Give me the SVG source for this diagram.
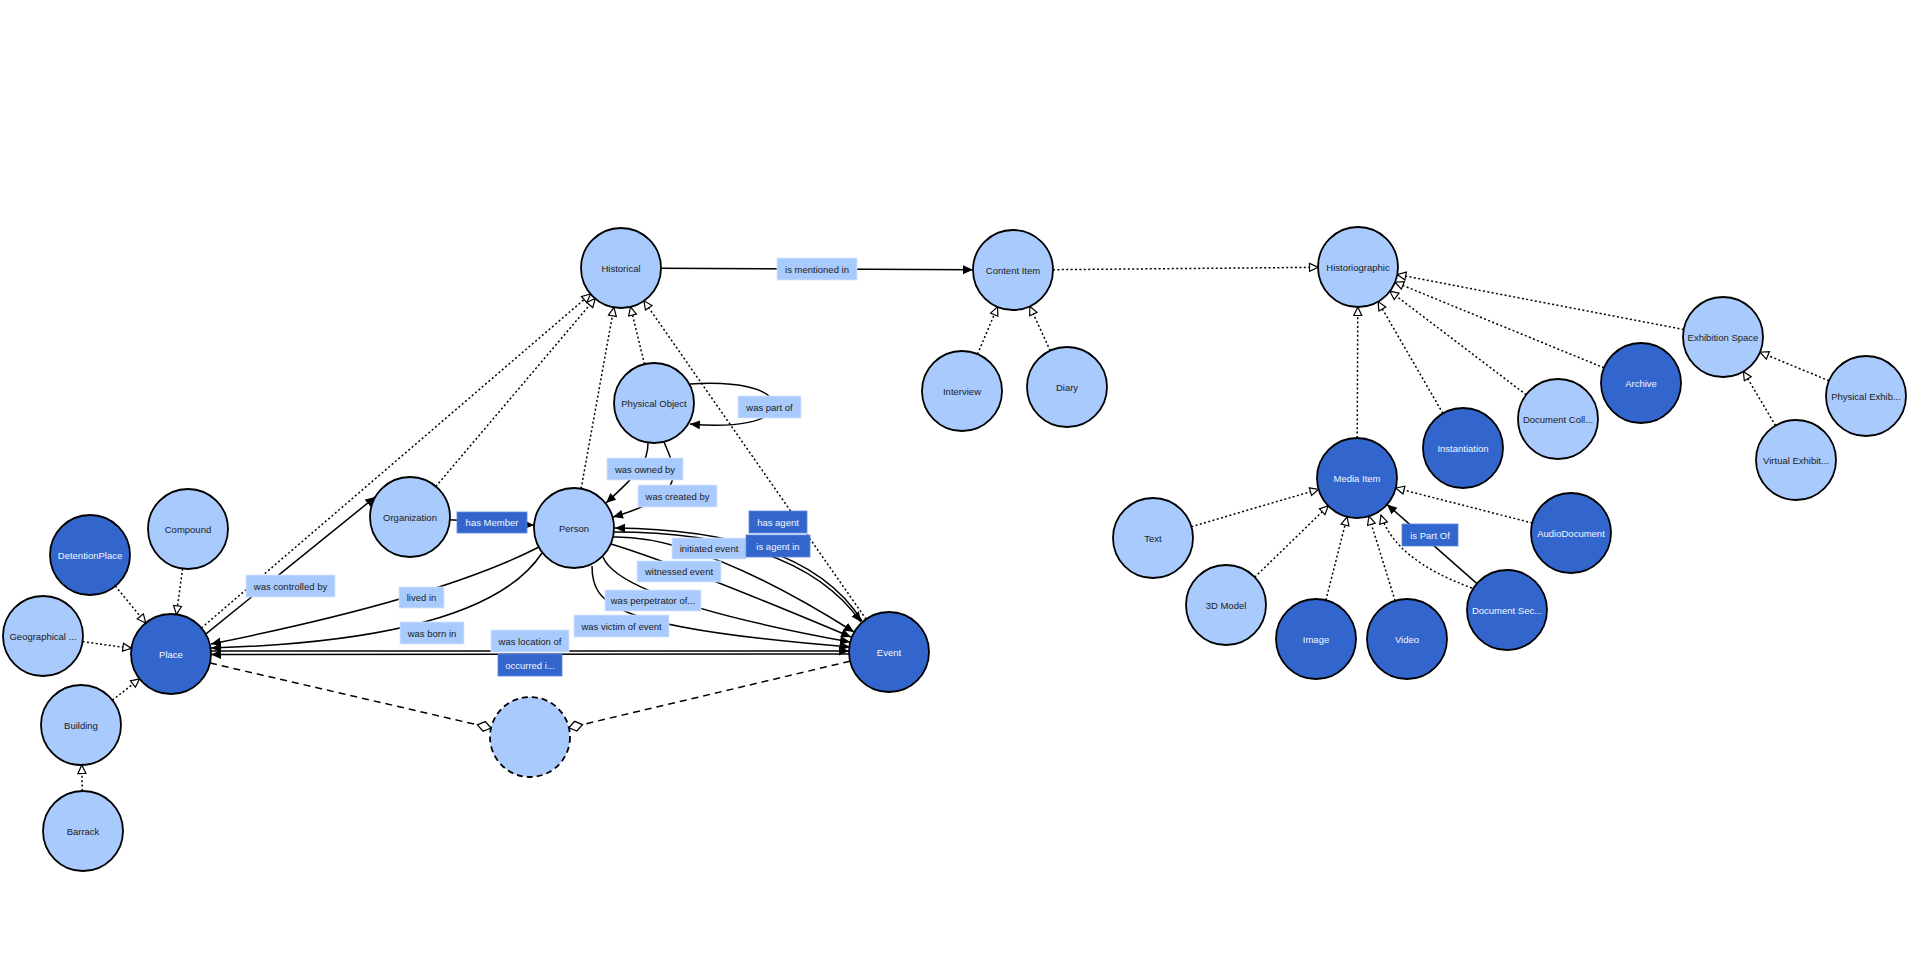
<svg xmlns="http://www.w3.org/2000/svg" width="1920" height="958" viewBox="0 0 1920 958">
<style>
  .n circle { stroke: #000; stroke-width: 1.8; }
  .lt { fill: #a8cafc; }
  .dk { fill: #3366cc; }
  .n text { font-family: "Liberation Sans", Arial, sans-serif; font-size: 9.5px; text-anchor: middle; dominant-baseline: central; }
  text.tl { fill: #1c1c24; }
  text.td { fill: #f2f6ff; }
  .e { fill: none; stroke: #000; stroke-width: 1.5; }
  .dot { stroke-dasharray: 2 2.4; }
  .dash { stroke-dasharray: 7 5; }
  .lbl text { font-family: "Liberation Sans", Arial, sans-serif; font-size: 9.5px; text-anchor: middle; dominant-baseline: central; }
  .lbl .bl { fill: #a8cafc; stroke: #d6e6ff; stroke-width: 0.8; }
  .lbl .bd { fill: #3366cc; stroke: #5a86dd; stroke-width: 0.8; }
</style>
<defs>
  <marker id="arr" markerUnits="userSpaceOnUse" markerWidth="12" markerHeight="10" refX="10" refY="4.5" orient="auto">
    <path d="M0,0 L10,4.5 L0,9 z" fill="#000"/>
  </marker>
  <marker id="tri" markerUnits="userSpaceOnUse" markerWidth="11" markerHeight="11" refX="9.5" refY="5" orient="auto">
    <path d="M1,1 L9.5,5 L1,9 z" fill="#fff" stroke="#000" stroke-width="1.2"/>
  </marker>
  <marker id="dia" markerUnits="userSpaceOnUse" markerWidth="17" markerHeight="13" refX="15" refY="6" orient="auto">
    <path d="M1,6 L8,1 L15,6 L8,11 z" fill="#fff" stroke="#000" stroke-width="1.3"/>
  </marker>
</defs>
<rect x="0" y="0" width="1920" height="958" fill="#fff"/>

<g id="connectors">
  <!-- subclass (dotted, hollow triangle) -->
  <line class="e dot" x1="115.3" y1="586" x2="145.7" y2="623" marker-end="url(#tri)"/>
  <line class="e dot" x1="182.6" y1="568.6" x2="176.4" y2="614.4" marker-end="url(#tri)"/>
  <line class="e dot" x1="82.6" y1="641.6" x2="131.4" y2="648.4" marker-end="url(#tri)"/>
  <line class="e dot" x1="112.4" y1="700.2" x2="139.6" y2="678.8" marker-end="url(#tri)"/>
  <line class="e dot" x1="82.2" y1="791" x2="81.8" y2="765" marker-end="url(#tri)"/>
  <line class="e dot" x1="201.4" y1="628" x2="590.6" y2="294" marker-end="url(#tri)"/>
  <line class="e dot" x1="435.8" y1="486.5" x2="595.2" y2="298.5" marker-end="url(#tri)"/>
  <line class="e dot" x1="581.1" y1="488.6" x2="613.9" y2="307.4" marker-end="url(#tri)"/>
  <line class="e dot" x1="644.5" y1="364.2" x2="630.5" y2="306.8" marker-end="url(#tri)"/>
  <line class="e dot" x1="866.1" y1="619.2" x2="643.9" y2="300.8" marker-end="url(#tri)"/>
  <line class="e dot" x1="1053" y1="269.7" x2="1318" y2="267.3" marker-end="url(#tri)"/>
  <line class="e dot" x1="977.5" y1="354.2" x2="997.5" y2="306.8" marker-end="url(#tri)"/>
  <line class="e dot" x1="1050.2" y1="350.7" x2="1029.8" y2="306.3" marker-end="url(#tri)"/>
  <line class="e dot" x1="1683.7" y1="329.5" x2="1397.3" y2="274.5" marker-end="url(#tri)"/>
  <line class="e dot" x1="1604" y1="367.8" x2="1395" y2="282.2" marker-end="url(#tri)"/>
  <line class="e dot" x1="1526.2" y1="394.8" x2="1389.8" y2="291.2" marker-end="url(#tri)"/>
  <line class="e dot" x1="1442.9" y1="413.4" x2="1378.1" y2="301.6" marker-end="url(#tri)"/>
  <line class="e dot" x1="1357.2" y1="438" x2="1357.8" y2="307" marker-end="url(#tri)"/>
  <line class="e dot" x1="1829" y1="380.8" x2="1760" y2="352.2" marker-end="url(#tri)"/>
  <line class="e dot" x1="1775.6" y1="425.6" x2="1743.4" y2="371.4" marker-end="url(#tri)"/>
  <line class="e dot" x1="1191.4" y1="526.7" x2="1318.6" y2="489.3" marker-end="url(#tri)"/>
  <line class="e dot" x1="1254.7" y1="577.2" x2="1328.3" y2="505.8" marker-end="url(#tri)"/>
  <line class="e dot" x1="1325.9" y1="600.2" x2="1347.1" y2="516.8" marker-end="url(#tri)"/>
  <line class="e dot" x1="1395.1" y1="600.8" x2="1368.9" y2="516.2" marker-end="url(#tri)"/>
  <line class="e dot" x1="1532.3" y1="523" x2="1395.7" y2="488" marker-end="url(#tri)"/>
  <path class="e dot" d="M1472,588 Q1395,560 1381,515" marker-end="url(#tri)"/>

  <!-- object properties (solid, filled arrow) -->
  <line class="e" x1="661" y1="268.2" x2="973" y2="269.8" marker-end="url(#arr)"/>
  <line class="e" x1="1477" y1="583.6" x2="1387" y2="504.4" marker-end="url(#arr)"/>
  <line class="e" x1="205.7" y1="634.1" x2="375.3" y2="496.9" marker-end="url(#arr)"/>
  <line class="e" x1="449.9" y1="519.7" x2="534.1" y2="525.3" marker-end="url(#arr)"/>
  <path class="e" d="M690,384 C735,381 773,388 773,405 C773,422 735,428 690,424" marker-end="url(#arr)"/>
  <path class="e" d="M648,443 C648,462 640,472 606,503" marker-end="url(#arr)"/>
  <path class="e" d="M664,442 C676,470 690,495 613,517" marker-end="url(#arr)"/>
  <path class="e" d="M862,621 Q805,530 615,528" marker-end="url(#arr)"/>
  <path class="e" d="M613,532 Q797,532 861,622" marker-end="url(#arr)"/>
  <path class="e" d="M613,537 Q700,535 854,632" marker-end="url(#arr)"/>
  <path class="e" d="M611,544 Q680,565 851,637" marker-end="url(#arr)"/>
  <path class="e" d="M603,557 Q620,600 850,642" marker-end="url(#arr)"/>
  <path class="e" d="M592,566 C592,605 612,628 850,647" marker-end="url(#arr)"/>
  <path class="e" d="M539,547 Q440,598 211,644" marker-end="url(#arr)"/>
  <path class="e" d="M542,553 Q485,640 211,648" marker-end="url(#arr)"/>
  <line class="e" x1="211" y1="651" x2="849" y2="651" marker-end="url(#arr)"/>
  <line class="e" x1="849" y1="654" x2="211" y2="654.5" marker-end="url(#arr)"/>

  <!-- dashed with diamonds -->
  <line class="e dash" x1="210" y1="663" x2="491" y2="728" marker-end="url(#dia)"/>
  <line class="e dash" x1="850.1" y1="661.2" x2="568.9" y2="727.8" marker-end="url(#dia)"/>
</g>

<g id="edge-labels" class="lbl">
  <rect class="bl" x="777" y="258" width="80" height="22"/><text class="tl" x="817" y="269">is mentioned in</text>
  <rect class="bl" x="246" y="575" width="89" height="22"/><text class="tl" x="290.5" y="586">was controlled by</text>
  <rect class="bd" x="457" y="512" width="70" height="21"/><text class="td" x="492" y="522.5">has Member</text>
  <rect class="bl" x="738" y="396" width="63" height="22"/><text class="tl" x="769.5" y="407">was part of</text>
  <rect class="bl" x="607" y="458" width="76" height="22"/><text class="tl" x="645" y="469">was owned by</text>
  <rect class="bl" x="638" y="485" width="79" height="22"/><text class="tl" x="677.5" y="496">was created by</text>
  <rect class="bl" x="672" y="538" width="74" height="21"/><text class="tl" x="709" y="548.5">initiated event</text>
  <rect class="bd" x="749" y="511" width="58" height="22"/><text class="td" x="778" y="522">has agent</text>
  <rect class="bd" x="746" y="535" width="64" height="22"/><text class="td" x="778" y="546">is agent in</text>
  <rect class="bl" x="637" y="561" width="84" height="21"/><text class="tl" x="679" y="571.5">witnessed event</text>
  <rect class="bl" x="605" y="590" width="96" height="21"/><text class="tl" x="653" y="600.5">was perpetrator of...</text>
  <rect class="bl" x="574" y="615" width="95" height="22"/><text class="tl" x="621.5" y="626">was victim of event</text>
  <rect class="bl" x="491" y="630" width="78" height="22"/><text class="tl" x="530" y="641">was location of</text>
  <rect class="bd" x="498" y="654" width="64" height="22"/><text class="td" x="530" y="665">occurred i...</text>
  <rect class="bl" x="399" y="587" width="45" height="21"/><text class="tl" x="421.5" y="597.5">lived in</text>
  <rect class="bl" x="400" y="622" width="64" height="22"/><text class="tl" x="432" y="633">was born in</text>
  <rect class="bd" x="1402" y="524" width="56" height="22"/><text class="td" x="1430" y="535">is Part Of</text>
</g>

<g id="nodes">
  <g id="historical" class="n"><circle class="lt" cx="621" cy="268" r="40"/><text class="tl" x="621" y="268">Historical</text></g>
  <g id="content-item" class="n"><circle class="lt" cx="1013" cy="270" r="40"/><text class="tl" x="1013" y="270">Content Item</text></g>
  <g id="historiographic" class="n"><circle class="lt" cx="1358" cy="267" r="40"/><text class="tl" x="1358" y="267">Historiographic</text></g>
  <g id="physical-object" class="n"><circle class="lt" cx="654" cy="403" r="40"/><text class="tl" x="654" y="403">Physical Object</text></g>
  <g id="organization" class="n"><circle class="lt" cx="410" cy="517" r="40"/><text class="tl" x="410" y="517">Organization</text></g>
  <g id="person" class="n"><circle class="lt" cx="574" cy="528" r="40"/><text class="tl" x="574" y="528">Person</text></g>
  <g id="place" class="n"><circle class="dk" cx="171" cy="654" r="40"/><text class="td" x="171" y="654">Place</text></g>
  <g id="event" class="n"><circle class="dk" cx="889" cy="652" r="40"/><text class="td" x="889" y="652">Event</text></g>
  <g id="detention-place" class="n"><circle class="dk" cx="90" cy="555" r="40"/><text class="td" x="90" y="555">DetentionPlace</text></g>
  <g id="compound" class="n"><circle class="lt" cx="188" cy="529" r="40"/><text class="tl" x="188" y="529">Compound</text></g>
  <g id="geographical" class="n"><circle class="lt" cx="43" cy="636" r="40"/><text class="tl" x="43" y="636">Geographical ...</text></g>
  <g id="building" class="n"><circle class="lt" cx="81" cy="725" r="40"/><text class="tl" x="81" y="725">Building</text></g>
  <g id="barrack" class="n"><circle class="lt" cx="83" cy="831" r="40"/><text class="tl" x="83" y="831">Barrack</text></g>
  <g id="unnamed" class="n"><circle class="lt" cx="530" cy="737" r="40" stroke-dasharray="6 4"/></g>
  <g id="interview" class="n"><circle class="lt" cx="962" cy="391" r="40"/><text class="tl" x="962" y="391">Interview</text></g>
  <g id="diary" class="n"><circle class="lt" cx="1067" cy="387" r="40"/><text class="tl" x="1067" y="387">Diary</text></g>
  <g id="exhibition-space" class="n"><circle class="lt" cx="1723" cy="337" r="40"/><text class="tl" x="1723" y="337">Exhibition Space</text></g>
  <g id="archive" class="n"><circle class="dk" cx="1641" cy="383" r="40"/><text class="td" x="1641" y="383">Archive</text></g>
  <g id="document-collection" class="n"><circle class="lt" cx="1558" cy="419" r="40"/><text class="tl" x="1558" y="419">Document Coll...</text></g>
  <g id="instantiation" class="n"><circle class="dk" cx="1463" cy="448" r="40"/><text class="td" x="1463" y="448">Instantiation</text></g>
  <g id="media-item" class="n"><circle class="dk" cx="1357" cy="478" r="40"/><text class="td" x="1357" y="478">Media Item</text></g>
  <g id="physical-exhibition" class="n"><circle class="lt" cx="1866" cy="396" r="40"/><text class="tl" x="1866" y="396">Physical Exhib...</text></g>
  <g id="virtual-exhibition" class="n"><circle class="lt" cx="1796" cy="460" r="40"/><text class="tl" x="1796" y="460">Virtual Exhibit...</text></g>
  <g id="text" class="n"><circle class="lt" cx="1153" cy="538" r="40"/><text class="tl" x="1153" y="538">Text</text></g>
  <g id="model-3d" class="n"><circle class="lt" cx="1226" cy="605" r="40"/><text class="tl" x="1226" y="605">3D Model</text></g>
  <g id="image" class="n"><circle class="dk" cx="1316" cy="639" r="40"/><text class="td" x="1316" y="639">Image</text></g>
  <g id="video" class="n"><circle class="dk" cx="1407" cy="639" r="40"/><text class="td" x="1407" y="639">Video</text></g>
  <g id="document-section" class="n"><circle class="dk" cx="1507" cy="610" r="40"/><text class="td" x="1507" y="610">Document Sec...</text></g>
  <g id="audio-document" class="n"><circle class="dk" cx="1571" cy="533" r="40"/><text class="td" x="1571" y="533">AudioDocument</text></g>
</g>
</svg>
